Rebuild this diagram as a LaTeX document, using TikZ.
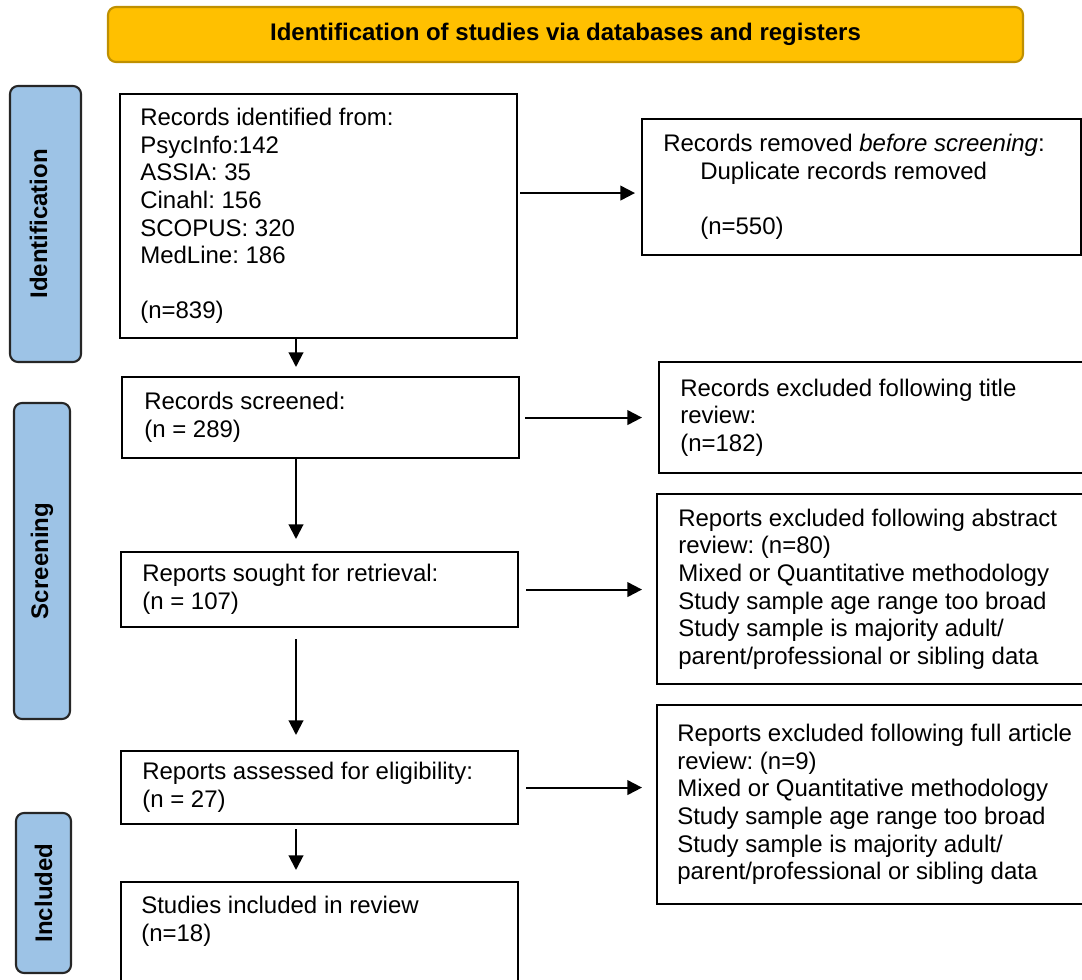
\documentclass[tikz,border=0pt]{standalone}
\usepackage{fontspec}
\setmainfont{Liberation Sans}
\frenchspacing
\usetikzlibrary{positioning,arrows.meta}
\definecolor{bannerfill}{RGB}{255,192,0}
\definecolor{bannerline}{RGB}{191,144,0}
\definecolor{stagefill}{RGB}{157,195,230}

\begin{document}
\begin{tikzpicture}[x=0.75pt, y=-0.75pt,
  frame/.style={draw, line width=1.6pt, rectangle, anchor=north west, inner sep=0pt},
  txt/.style={align=left, inner sep=0pt, font=\fontsize{18}{20.7}\selectfont},
  stage/.style={draw=black!85, fill=stagefill, line width=1.6pt, rounded corners=6pt, rotate=90, inner sep=0pt, font=\fontsize{18}{20.7}\selectfont\bfseries},
  arr/.style={-{Triangle[length=11pt, width=11pt]}, line width=1.5pt}]

  \useasboundingbox (0,0) rectangle (1082,980);

  % Banner
  \node[draw=bannerline, fill=bannerfill, line width=1.6pt, rounded corners=6pt, minimum width=686.25pt, minimum height=41.25pt, font=\fontsize{18}{20.7}\selectfont\bfseries] (banner) at (565.5,34.5) {Identification of studies via databases and registers};

  % Stage labels
  \node[stage, minimum width=207pt, minimum height=53.25pt, text depth=10.5pt] (idstage) at (45.5,224) {Identification};
  \node[stage, minimum width=237pt, minimum height=42pt] (scrstage) at (42,561) {Screening};
  \node[stage, minimum width=120pt, minimum height=41.25pt] (incstage) at (43.5,893) {Included};

  % Left column
  \node[frame, minimum width=297.75pt, minimum height=183pt] (ident) at (119,93) {};
  \node[txt, right=15.75pt of ident.west] (ident-t) {Records identified from:\\PsycInfo:142\\ASSIA: 35\\Cinahl: 156\\SCOPUS: 320\\MedLine: 186\\[20.7pt](n=839)};

  \node[frame, minimum width=297.75pt, minimum height=60.75pt] (screened) at (121,376) {};
  \node[txt, right=17.25pt of screened.west] (screened-t) {Records screened:\\(n = 289)};

  \node[frame, minimum width=297.75pt, minimum height=56.25pt] (sought) at (120,551) {};
  \node[txt, right=16.5pt of sought.west] (sought-t) {Reports sought for retrieval:\\(n = 107)};

  \node[frame, minimum width=297.75pt, minimum height=54.75pt] (assessed) at (120,750) {};
  \node[txt, right=16.5pt of assessed.west] (assessed-t) {Reports assessed for eligibility:\\(n = 27)};

  \node[frame, minimum width=297.75pt, minimum height=105pt] (studies) at (120,881) {};
  \node[txt, anchor=west] (studies-t) at ([shift={(21,40)}]studies.north west) {Studies included in review\\(n=18)};

  % Right column
  \node[frame, minimum width=329.25pt, minimum height=102pt] (removed) at (641,118) {};
  \node[txt, right=16.5pt of removed.west] (removed-t) {Records removed \textit{before screening}:\\\hspace*{27.75pt}Duplicate records removed\\[20.7pt]\hspace*{27.75pt}(n=550)};

  \node[frame, minimum width=321pt, minimum height=83.25pt] (title) at (658,361) {};
  \node[txt, right=16.5pt of title.west] (title-t) {Records excluded following title\\review:\\(n=182)};

  \node[frame, minimum width=322.5pt, minimum height=142.5pt] (abstract) at (656,493) {};
  \node[txt, right=16.5pt of abstract.west] (abstract-t) {Reports excluded following abstract\\review: (n=80)\\Mixed or Quantitative methodology\\Study sample age range too broad\\Study sample is majority adult/\\parent/professional or sibling data};

  \node[frame, minimum width=322.5pt, minimum height=149.25pt] (fullart) at (656,704) {};
  \node[txt, right=15.75pt of fullart.west] (fullart-t) {Reports excluded following full article\\review: (n=9)\\Mixed or Quantitative methodology\\Study sample age range too broad\\Study sample is majority adult/\\parent/professional or sibling data};

  % Downward flow
  \coordinate (spine) at (296,0);
  \draw[arr, shorten >=6.75pt] (ident.south -| spine) -- (screened.north -| spine);
  \draw[arr, shorten >=9pt] (screened.south -| spine) -- (sought.north -| spine);
  \draw[arr, shorten <=8.25pt, shorten >=11.25pt] (sought.south -| spine) -- (assessed.north -| spine);
  \draw[arr, shorten <=3pt, shorten >=8.25pt] (assessed.south -| spine) -- (studies.north -| spine);

  % Exclusions
  \coordinate (dup) at ([yshift=-4.5pt]removed.west);
  \draw[arr, shorten <=1.5pt, shorten >=4.5pt] (ident.east |- dup) -- (dup);
  \draw[arr, shorten <=3.75pt, shorten >=12pt] (screened.east) -- (screened.east -| title.west);
  \draw[arr, shorten <=5.25pt, shorten >=10.5pt] (sought.east) -- (sought.east -| abstract.west);
  \draw[arr, shorten <=5.25pt, shorten >=10.5pt] (assessed.east) -- (assessed.east -| fullart.west);
\end{tikzpicture}
\end{document}
